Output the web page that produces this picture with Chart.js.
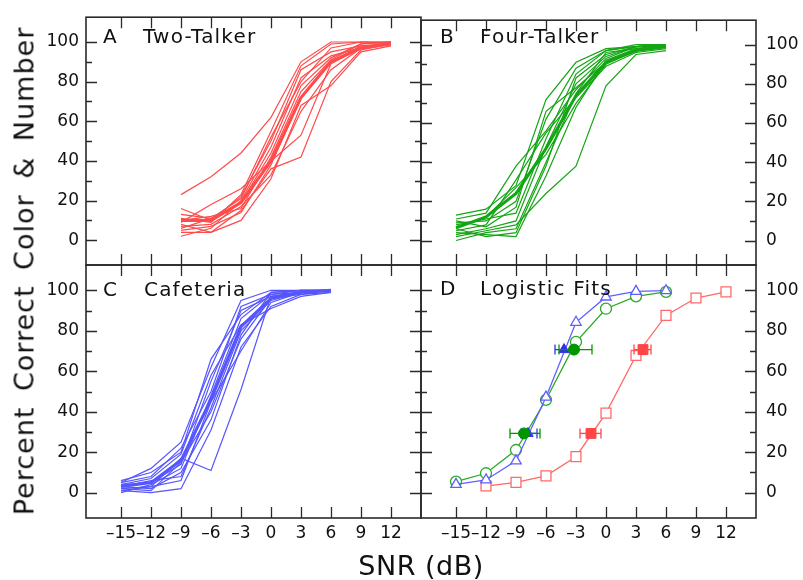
<!DOCTYPE html>
<html>
<head>
<meta charset="utf-8">
<script src="https://cdn.jsdelivr.net/npm/chart.js@4.4.1/dist/chart.umd.min.js"></script>
<style>
  body { margin: 0; background: #fff; }
  #wrap { position: relative; width: 803px; height: 580px; font-family: 'DejaVu Sans', sans-serif; color: #111; overflow: hidden; }
  canvas { position: absolute; left: 0; top: 0; }
  .lbl { position: absolute; font-size: 20px; letter-spacing: 1.2px; line-height: 1; white-space: pre; z-index: 5; }
  #ytitle { position: absolute; left: 24px; top: 271px; font-size: 27px; line-height: 1; white-space: pre;
            letter-spacing: 1px; word-spacing: 6px; transform: translate(-50%, -50%) rotate(-90deg); z-index: 5; }
  #xtitle { position: absolute; left: 421px; top: 565px; font-size: 27px; line-height: 1; white-space: pre;
            letter-spacing: 0.5px; transform: translate(-50%, -50%); z-index: 5; }
</style>
</head>
<body>
<div id="wrap">
  <canvas id="cA" width="803" height="580"></canvas>
  <canvas id="cB" width="803" height="580"></canvas>
  <canvas id="cC" width="803" height="580"></canvas>
  <canvas id="cD" width="803" height="580"></canvas>

  <div class="lbl" style="left:103px; top:26px">A</div>
  <div class="lbl" style="left:143px; top:26px">Two-Talker</div>
  <div class="lbl" style="left:440px; top:26px">B</div>
  <div class="lbl" style="left:480px; top:26px">Four-Talker</div>
  <div class="lbl" style="left:103px; top:279px">C</div>
  <div class="lbl" style="left:144px; top:279px">Cafeteria</div>
  <div class="lbl" style="left:440px; top:278px">D</div>
  <div class="lbl" style="left:480px; top:278px">Logistic Fits</div>

  <div id="ytitle">Percent Correct Color &amp; Number</div>
  <div id="xtitle">SNR (dB)</div>
</div>

<script>
// axis ticks
const snrTicks = [-15, -12, -9, -6, -3, 0, 3, 6, 9, 12];
const snrTickLabels = ['–15', '–12', '–9', '–6', '–3', '0', '3', '6', '9', '12'];
const pctTicks = [0, 20, 40, 60, 80, 100];
const pctMinorTicks = [10, 30, 50, 70, 90];

// A: two-talker, individual listeners + mean (thick)
const snrTwo = [-9, -6, -3, 0, 3, 6, 9, 12];
const twoTalker = [
    [23, 32, 44, 62, 90, 100, 100, 100],
    [16, 10, 22, 50, 86, 95, 98, 99],
    [13, 11, 19, 44, 78, 92, 99, 100],
    [11, 9, 23, 55, 88, 99, 100, 100],
    [9, 18, 26, 40, 53, 89, 97, 100],
    [8, 4, 15, 36, 42, 80, 96, 99],
    [7, 8, 17, 33, 65, 86, 97, 99],
    [6, 11, 21, 52, 80, 97, 100, 99],
    [5, 7, 14, 38, 72, 90, 98, 99],
    [4, 4, 10, 31, 68, 78, 95, 98],
    [2, 6, 20, 47, 82, 93, 97, 99],
    [10, 12, 16, 42, 75, 91, 99, 100]
];
const twoTalkerMean = [10, 10, 19, 40, 72, 90, 97, 99];

// B: four-talker
const snrFour = [-15, -12, -9, -6, -3, 0, 3, 6];
const fourTalker = [
    [2, 5, 8, 24, 38, 79, 95, 97],
    [13, 16, 28, 72, 91, 98, 99, 100],
    [11, 14, 38, 56, 77, 93, 99, 100],
    [9, 10, 20, 62, 88, 97, 100, 100],
    [7, 12, 27, 44, 70, 90, 97, 99],
    [6, 2, 4, 38, 83, 95, 99, 100],
    [5, 8, 31, 55, 73, 89, 96, 98],
    [4, 3, 2, 33, 68, 92, 98, 99],
    [3, 6, 10, 48, 80, 94, 99, 99],
    [10, 7, 17, 66, 78, 91, 97, 99],
    [0, 4, 6, 40, 75, 96, 98, 100],
    [8, 11, 14, 52, 85, 97, 99, 100]
];
const fourTalkerMean = [6.5, 12, 24, 47, 74, 91, 97, 99];

// C: cafeteria
const snrCaf = [-15, -12, -9, -6, -3, 0, 3, 6];
const cafeteria = [
    [2, 3, 17, 11, 51, 97, 99, 100],
    [1, 0, 2, 31, 72, 92, 98, 100],
    [5, 12, 25, 62, 95, 100, 100, 100],
    [6, 10, 20, 66, 88, 99, 100, 100],
    [4, 5, 14, 55, 90, 97, 99, 100],
    [3, 6, 8, 42, 80, 95, 99, 100],
    [2, 1, 15, 40, 76, 96, 98, 99],
    [0, 4, 12, 48, 86, 98, 100, 100],
    [4, 7, 19, 58, 83, 91, 97, 99],
    [3, 2, 10, 36, 78, 99, 100, 100],
    [5, 8, 22, 50, 92, 98, 99, 100],
    [1, 3, 6, 45, 70, 94, 99, 100]
];
const cafeteriaMean = [3, 5, 16, 46, 82, 96, 99, 100];

// D: logistic fits
const snrFitTwo = [-12, -9, -6, -3, 0, 3, 6, 9, 12];
const fitTwo = [3.3, 5.1, 8.3, 17.8, 39.3, 67.8, 87.6, 96.2, 99.2];
const snrFitFour = [-15, -12, -9, -6, -3, 0, 3, 6];
const fitFour = [5.5, 9.6, 21.1, 45.9, 74.5, 90.9, 97, 99.2];
const snrFitCaf = [-15, -12, -9, -6, -3, 0, 3, 6];
const fitCaf = [4.1, 6.3, 15.7, 47.2, 84.2, 96.7, 99.5, 99.8];

// thresholds (filled markers) with horizontal error bars
const threshLevels = [29.3, 70.7];
const thrTwo = [-1.5, 3.7];
const thrTwoLo = [-2.6, 2.8];
const thrTwoHi = [-0.5, 4.5];
const thrFour = [-8.2, -3.2];
const thrFourLo = [-9.6, -4.7];
const thrFourHi = [-6.6, -1.4];
const thrCaf = [-7.8, -4.2];
const thrCafLo = [-8.5, -5.1];
const thrCafHi = [-6.9, -3.3];

const RED = 'rgb(255,75,75)';
const GREEN = 'rgb(20,165,20)';
const BLUE = 'rgb(85,85,255)';
const RED_D = 'rgb(255,105,105)';
const GREEN_D = 'rgb(40,170,40)';
const BLUE_D = 'rgb(95,95,255)';

const W = 803, H = 580;
const Y_AXIS_W = 60, X_AXIS_H = 30;
const FONT = { family: 'DejaVu Sans', size: 17 };

function pts(xs, ys) {
    return xs.map((x, i) => ({ x: x, y: ys[i] }));
}

// frame + inward ticks on all four sides
const frameTicks = {
    id: 'frameTicks',
    afterDatasetsDraw(chart) {
        const { ctx, chartArea: a, scales } = chart;
        const sx = scales.x, sy = scales.y;
        ctx.save();
        ctx.strokeStyle = '#2a2a2a';
        ctx.lineWidth = 1.3;
        ctx.beginPath();
        snrTicks.forEach(v => {
            const px = Math.round(sx.getPixelForValue(v)) + 0.5;
            ctx.moveTo(px, a.top); ctx.lineTo(px, a.top + 11);
            ctx.moveTo(px, a.bottom); ctx.lineTo(px, a.bottom - 11);
        });
        pctTicks.concat(pctMinorTicks).forEach(v => {
            const py = Math.round(sy.getPixelForValue(v)) + 0.5;
            const len = pctTicks.includes(v) ? 11 : 6;
            ctx.moveTo(a.left, py); ctx.lineTo(a.left + len, py);
            ctx.moveTo(a.right, py); ctx.lineTo(a.right - len, py);
        });
        ctx.stroke();
        ctx.lineWidth = 1.6;
        ctx.strokeRect(a.left, a.top, a.right - a.left, a.bottom - a.top);
        ctx.restore();
    }
};

function makePanel(id, box, datasets, xLabels, yPos) {
    // axis boxes get a fixed size (labels are clipped to them), the rest is padding
    const pad = { left: box.left, top: box.top, right: W - box.right, bottom: H - box.bottom };
    if (yPos === 'left') pad.left -= Y_AXIS_W; else pad.right -= Y_AXIS_W;
    if (xLabels) pad.bottom -= X_AXIS_H;

    new Chart(document.getElementById(id), {
        type: 'scatter',
        data: { datasets: datasets },
        options: {
            responsive: false,
            animation: false,
            devicePixelRatio: 1,
            layout: { padding: pad },
            plugins: { legend: { display: false }, tooltip: { enabled: false } },
            scales: {
                x: {
                    type: 'linear', position: 'bottom', min: -18.5, max: 15,
                    grid: { display: false, drawTicks: false },
                    border: { display: false },
                    afterBuildTicks: s => { s.ticks = snrTicks.map(v => ({ value: v })); },
                    afterFit: s => { s.height = xLabels ? X_AXIS_H : 0; },
                    ticks: {
                        display: xLabels, padding: 5, autoSkip: false, maxRotation: 0,
                        color: '#111', font: FONT,
                        callback: (v, i) => snrTickLabels[i]
                    }
                },
                y: {
                    type: 'linear', position: yPos, min: -12.5, max: 112.5,
                    grid: { display: false, drawTicks: false },
                    border: { display: false },
                    afterBuildTicks: s => { s.ticks = pctTicks.map(v => ({ value: v })); },
                    afterFit: s => { s.width = Y_AXIS_W; },
                    ticks: {
                        padding: yPos === 'left' ? 7 : 10, color: '#111', font: FONT,
                        callback: v => String(v)
                    }
                }
            }
        },
        plugins: [frameTicks]
    });
}

function listenerSets(xs, rows, mean, color) {
    const sets = [{
        data: pts(xs, mean), showLine: true, borderColor: color, borderWidth: 3,
        pointRadius: 0, tension: 0
    }];
    rows.forEach(r => sets.push({
        data: pts(xs, r), showLine: true, borderColor: color, borderWidth: 1.2,
        pointRadius: 0, tension: 0
    }));
    return sets;
}

function fitSet(xs, ys, color, style, r) {
    return {
        data: pts(xs, ys), showLine: true, borderColor: color, borderWidth: 1.3,
        pointStyle: style, pointRadius: r, pointBorderWidth: 1.3,
        pointBorderColor: color, pointBackgroundColor: '#fff'
    };
}

function thrSets(thr, lo, hi, color, style, r) {
    const sets = [{
        data: pts(thr, threshLevels), showLine: false,
        pointStyle: style, pointRadius: r, pointBorderWidth: 1,
        pointBorderColor: color, pointBackgroundColor: color
    }];
    threshLevels.forEach((lvl, i) => sets.push({
        data: [{ x: lo[i], y: lvl }, { x: hi[i], y: lvl }],
        showLine: true, borderColor: color, borderWidth: 1.3,
        pointStyle: 'line', rotation: 90, pointRadius: 5, pointBorderWidth: 1.3,
        pointBorderColor: color
    }));
    return sets;
}

makePanel('cA', { left: 86, top: 12, right: 421, bottom: 265 },
    listenerSets(snrTwo, twoTalker, twoTalkerMean, RED), false, 'left');
makePanel('cB', { left: 421, top: 12, right: 756, bottom: 265 },
    listenerSets(snrFour, fourTalker, fourTalkerMean, GREEN), false, 'right');
makePanel('cC', { left: 86, top: 265, right: 421, bottom: 518 },
    listenerSets(snrCaf, cafeteria, cafeteriaMean, BLUE), true, 'left');

const dSets = []
    .concat(thrSets(thrFour, thrFourLo, thrFourHi, 'rgb(0,150,0)', 'circle', 5.5))
    .concat(thrSets(thrCaf, thrCafLo, thrCafHi, 'rgb(50,50,235)', 'triangle', 6))
    .concat(thrSets(thrTwo, thrTwoLo, thrTwoHi, 'rgb(255,70,70)', 'rect', 7))
    .concat([
        fitSet(snrFitCaf, fitCaf, BLUE_D, 'triangle', 6),
        fitSet(snrFitFour, fitFour, GREEN_D, 'circle', 5.5),
        fitSet(snrFitTwo, fitTwo, RED_D, 'rect', 7)
    ]);
makePanel('cD', { left: 421, top: 265, right: 756, bottom: 518 }, dSets, true, 'right');
</script>
</body>
</html>
